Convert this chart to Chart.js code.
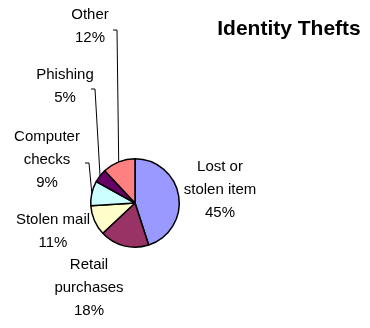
<!DOCTYPE html>
<html>
<head>
<meta charset="UTF-8">
<script src="https://cdn.jsdelivr.net/npm/chart.js"></script>
<style>
  body { margin: 0; background: #fff; }
</style>
</head>
<body>
<canvas id="pie" width="370" height="328"></canvas>
<script>
// data
const categories = [['Lost or', 'stolen item'], ['Retail', 'purchases'], ['Stolen mail'], ['Computer', 'checks'], ['Phishing'], ['Other']];
const values = [45, 18, 11, 9, 5, 12];
const colors = ['#9999FF', '#993366', '#FFFFCC', '#CCFFFF', '#660066', '#FF8080'];
const title = 'Identity Thefts';

// label placement relative to pie centre (first line centre), plus leader elbows
const labelPos = [[85, -36], [-46, 62], [-82, 17], [-88, -66], [-70, -128], [-45, -188]];
const leaders = [null, null, null, [-46, -40], [-40, -114], [-18, -173]];

const labelPlugin = {
  id: 'pieLabels',
  afterDatasetsDraw(chart) {
    const ctx = chart.ctx;
    const arcs = chart.getDatasetMeta(0).data;
    const total = values.reduce((a, b) => a + b, 0);
    ctx.save();
    ctx.fillStyle = '#000';
    ctx.strokeStyle = '#000';
    ctx.lineWidth = 1;
    arcs.forEach((arc, i) => {
      const { x, y, startAngle, endAngle, outerRadius } = arc.getProps(['x', 'y', 'startAngle', 'endAngle', 'outerRadius'], true);
      if (leaders[i]) {
        const mid = (startAngle + endAngle) / 2;
        const ex = x + Math.cos(mid) * outerRadius;
        const ey = y + Math.sin(mid) * outerRadius;
        const bx = x + leaders[i][0], by = y + leaders[i][1];
        ctx.beginPath();
        ctx.moveTo(ex, ey);
        ctx.lineTo(bx, by);
        ctx.lineTo(bx - 4, by);
        ctx.stroke();
      }
      const lines = categories[i].concat([Math.round(values[i] / total * 100) + '%']);
      ctx.font = '15px "Liberation Sans", Arial, sans-serif';
      ctx.textAlign = 'center';
      ctx.textBaseline = 'middle';
      lines.forEach((t, k) => {
        ctx.fillText(t, x + labelPos[i][0], y + labelPos[i][1] + k * 23);
      });
    });
    ctx.font = 'bold 21px "Liberation Sans", Arial, sans-serif';
    ctx.textAlign = 'center';
    ctx.textBaseline = 'middle';
    ctx.fillText(title, 289, 29);
    ctx.restore();
  }
};

new Chart(document.getElementById('pie'), {
  type: 'pie',
  data: {
    labels: categories,
    datasets: [{
      data: values,
      backgroundColor: colors,
      borderColor: '#000',
      borderWidth: 1.5,
      hoverOffset: 0
    }]
  },
  options: {
    responsive: false,
    animation: false,
    layout: { padding: { left: 90, right: 190, top: 158, bottom: 80 } },
    plugins: {
      legend: { display: false },
      tooltip: { enabled: false }
    }
  },
  plugins: [labelPlugin]
});
</script>
</body>
</html>
